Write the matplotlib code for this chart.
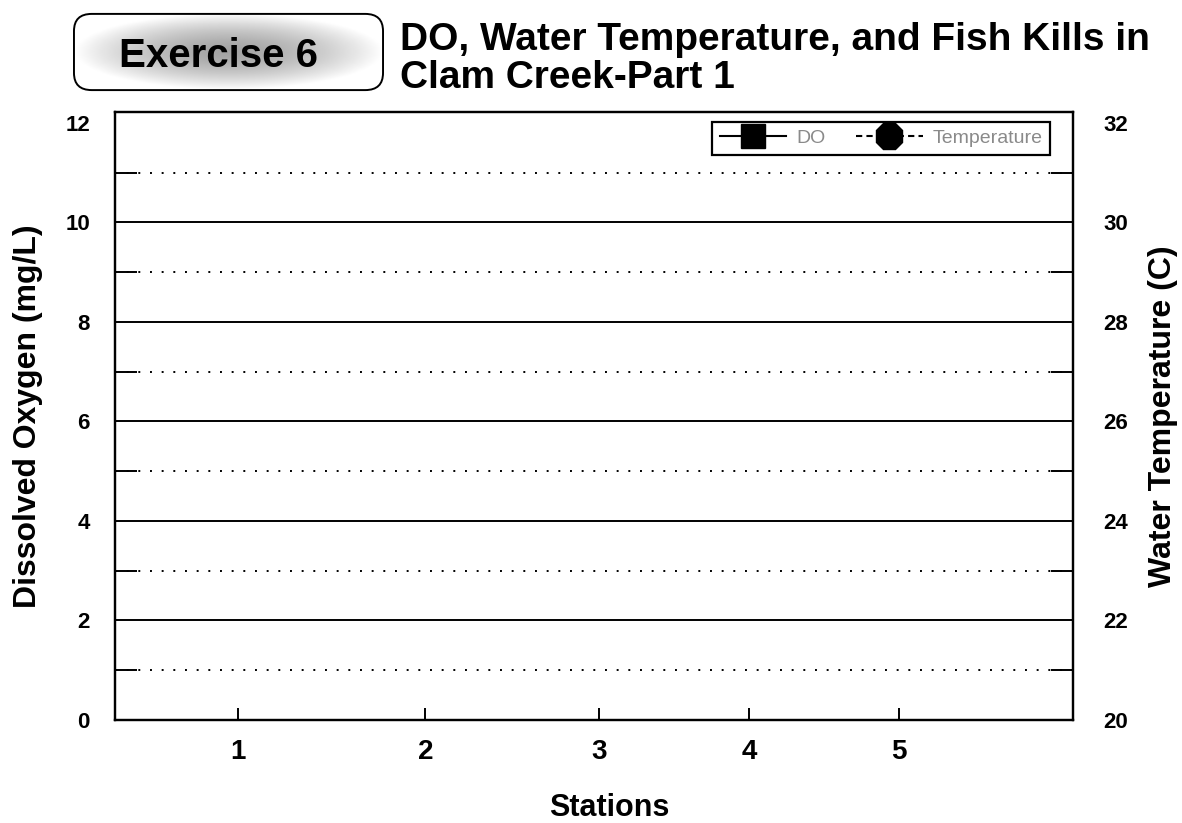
import matplotlib
matplotlib.use("Agg")
import matplotlib.pyplot as plt
import numpy as np
from matplotlib.patches import FancyBboxPatch

plt.rcParams["font.family"] = ["Liberation Sans", "DejaVu Sans"]

# Worksheet: station positions along the creek and (still blank) readings
stations = [1, 2, 3, 4, 5]
station_pos = [0.82, 2.07, 3.23, 4.23, 5.23]
do_values = []          # dissolved oxygen (mg/L), to be filled in
temp_values = []        # water temperature (C), to be filled in
do_ticks = [0, 2, 4, 6, 8, 10, 12]
temp_ticks = [20, 22, 24, 26, 28, 30, 32]

fig = plt.figure(figsize=(11.82, 8.23), dpi=100)
ax = fig.add_axes([115 / 1182, 1 - 720 / 823, 958 / 1182, 608 / 823])

# empty series, kept so the legend matches the worksheet
ax.plot(station_pos[:len(do_values)], do_values, color="black", ls="-", lw=1.5,
        marker="s", markersize=17, label="DO")
ax2 = ax.twinx()
ax2.plot(station_pos[:len(temp_values)], temp_values, color="black", ls=(0, (3, 2)),
         lw=1.5, marker="8", markersize=21, label="Temperature")

ax.set_xlim(0, 6.39)
ax.set_ylim(0, 12.22)
ax2.set_ylim(20, 32.22)

ax.set_xticks(station_pos)
ax.set_xticklabels([str(s) for s in stations], fontsize=20, fontweight="bold")
ax.set_yticks(do_ticks)
ax.set_yticklabels([str(t) for t in do_ticks], fontsize=16, fontweight="bold")
ax.set_yticks(np.arange(1, 12, 2), minor=True)
ax2.set_yticks(temp_ticks)
ax2.set_yticklabels([str(t) for t in temp_ticks], fontsize=16, fontweight="bold")

ax.tick_params(axis="x", direction="in", length=9, width=1.4, pad=14, top=False)
ax.tick_params(axis="y", which="major", length=0, pad=18)
ax.tick_params(axis="y", which="minor", direction="in", length=16, width=1.4,
               left=True, right=True)
ax2.tick_params(axis="y", which="major", length=0, pad=22)

ax.grid(which="major", axis="y", color="black", lw=1.4, ls="-")
ax.grid(which="minor", axis="y", color="black", lw=1.4, ls=(0, (1, 5)))
# no solid rule on the 0 and 12 levels
ygrid = ax.get_ygridlines()
ygrid[0].set_visible(False)
ygrid[-1].set_visible(False)
for a in (ax, ax2):
    for sp in a.spines.values():
        sp.set_linewidth(1.6)
        sp.set_color("black")

ax.set_xlabel("Stations", fontsize=22, fontweight="bold", labelpad=20)
ax.xaxis.label.set_x(0.516)
ax.set_ylabel("Dissolved Oxygen (mg/L)", fontsize=23, fontweight="bold", labelpad=16)
ax2.set_ylabel("Water Temperature (C)", fontsize=23, fontweight="bold", labelpad=14)

h1, l1 = ax.get_legend_handles_labels()
h2, l2 = ax2.get_legend_handles_labels()
leg = ax2.legend(h1 + h2, l1 + l2, loc="upper right", bbox_to_anchor=(0.976, 0.984),
                 borderaxespad=0, ncol=2, fontsize=14, handlelength=3.4,
                 handletextpad=0.5, columnspacing=1.6, fancybox=False,
                 edgecolor="black", framealpha=1, borderpad=0.4)
leg.get_frame().set_linewidth(1.6)
for t in leg.get_texts():
    t.set_color("#8a8a8a")

# title
fig.text(400 / 1182, 1 - 50 / 823, "DO, Water Temperature, and Fish Kills in",
         fontsize=28, fontweight="bold", va="baseline", ha="left")
fig.text(400 / 1182, 1 - 88 / 823, "Clam Creek-Part 1",
         fontsize=28, fontweight="bold", va="baseline", ha="left")

# "Exercise 6" badge with a grey gradient
bw, bh = 313, 80
bax = fig.add_axes([72 / 1182, 1 - 92 / 823, bw / 1182, bh / 823])
bax.set_xlim(-2, bw + 2)
bax.set_ylim(-2, bh + 2)
bax.axis("off")
box = FancyBboxPatch((0, 0), bw, bh, boxstyle="round,pad=0,rounding_size=18",
                     facecolor="none", edgecolor="black", lw=1.4)
bax.add_patch(box)
gx, gy = np.meshgrid(np.linspace(-1, 1, 300), np.linspace(-1, 1, 80))
r = np.clip(np.sqrt(gx ** 2 + gy ** 2), 0, 1)
shade = 0.64 + 0.36 * r ** 1.6
img = bax.imshow(shade, cmap="gray", vmin=0, vmax=1, extent=(0, bw, 0, bh),
                 aspect="auto", zorder=0)
img.set_clip_path(box)
bax.text(bw / 2 - 10, bh / 2 - 4, "Exercise 6", fontsize=29, fontweight="bold",
         ha="center", va="center")

fig.savefig("out.png", dpi=100)
